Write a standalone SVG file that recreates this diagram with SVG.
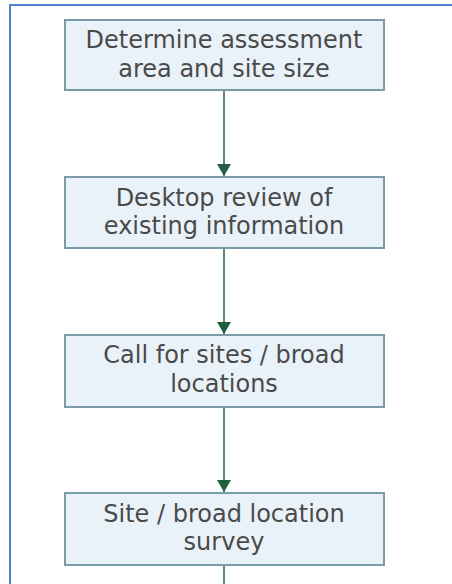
<svg xmlns="http://www.w3.org/2000/svg" width="452" height="584" viewBox="0 0 452 584">
<style>
.box{fill:#eaf2f9;stroke:#7c9ba8;stroke-width:2}
.t{font-family:"DejaVu Sans",Verdana,sans-serif;font-size:24px;fill:#4a4a4a;text-anchor:middle}
.c{stroke:#5b8a72;stroke-width:2;fill:none}
</style>
<defs>
<marker id="ah" markerWidth="12" markerHeight="14" refX="12" refY="7" orient="auto" markerUnits="userSpaceOnUse" viewBox="0 0 12 14">
<path d="M0,0 L12,7 L0,14 Z" fill="#1f6040"/>
</marker>
</defs>
<rect width="452" height="584" fill="#ffffff"/>
<path d="M10,584 V5 H452" fill="none" stroke="#4f82c8" stroke-width="2"/>
<g id="connectors">
<line class="c" x1="224" y1="91" x2="224" y2="176" marker-end="url(#ah)"/>
<line class="c" x1="224" y1="249" x2="224" y2="334" marker-end="url(#ah)"/>
<line class="c" x1="224" y1="408" x2="224" y2="492" marker-end="url(#ah)"/>
<line class="c" x1="224" y1="566" x2="224" y2="584"/>
</g>
<g id="n1">
<rect class="box" x="65" y="20" width="319" height="70"/>
<text class="t" x="224" y="48">Determine assessment</text>
<text class="t" x="224" y="77">area and site size</text>
</g>
<g id="n2">
<rect class="box" x="65" y="177" width="319" height="71"/>
<text class="t" x="224" y="206">Desktop review of</text>
<text class="t" x="224" y="234">existing information</text>
</g>
<g id="n3">
<rect class="box" x="65" y="335" width="319" height="72"/>
<text class="t" x="224" y="363">Call for sites / broad</text>
<text class="t" x="224" y="392">locations</text>
</g>
<g id="n4">
<rect class="box" x="65" y="493" width="319" height="72"/>
<text class="t" x="224" y="522">Site / broad location</text>
<text class="t" x="224" y="550">survey</text>
</g>
</svg>
